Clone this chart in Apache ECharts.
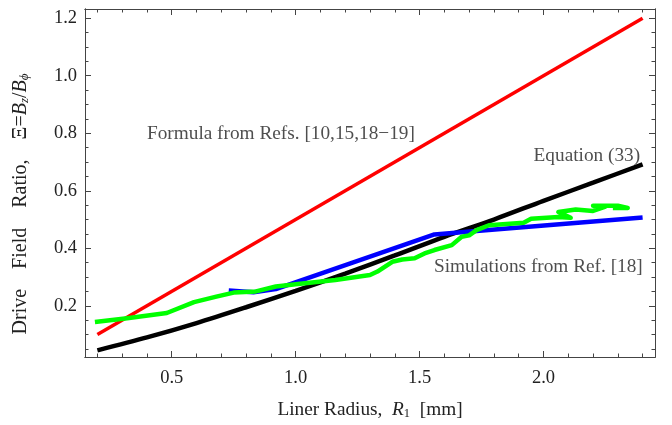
<!DOCTYPE html>
<html>
<head>
<meta charset="utf-8">
<script src="https://cdn.jsdelivr.net/npm/echarts@6/dist/echarts.min.js"></script>
<style>
  html, body { margin: 0; padding: 0; background: #fff; }
  #chart { width: 672px; height: 425px; }
</style>
</head>
<body>
<div id="chart"></div>
<script>
// tick positions
const xMajor = [0.5, 1.0, 1.5, 2.0];
const xMinor = [0.2, 0.3, 0.4, 0.6, 0.7, 0.8, 0.9, 1.1, 1.2, 1.3, 1.4, 1.6, 1.7, 1.8, 1.9, 2.1, 2.2, 2.3, 2.4];
const yMajor = [0.2, 0.4, 0.6, 0.8, 1.0, 1.2];
const yMinor = [0.05, 0.1, 0.15, 0.25, 0.3, 0.35, 0.45, 0.5, 0.55, 0.65, 0.7, 0.75, 0.85, 0.9, 0.95, 1.05, 1.1, 1.15];

// Formula from Refs. [10,15,18-19]
const formulaX = [0.2, 2.4];
const formulaY = [0.1, 1.2];

// Equation (33)
const eqX = [0.2, 0.4, 0.6, 0.8, 1.0, 1.2, 1.4, 1.6, 1.8, 2.0, 2.2, 2.4];
const eqY = [0.045, 0.09, 0.14, 0.195, 0.252, 0.312, 0.375, 0.44, 0.5, 0.565, 0.628, 0.692];

// Simulations (blue)
const simBlueX = [0.73, 0.83, 0.92, 1.56, 1.68, 2.40];
const simBlueY = [0.253, 0.247, 0.258, 0.448, 0.457, 0.507];

const simGreenX = [0.19, 0.32, 0.48, 0.59, 0.68, 0.75, 0.84, 0.92, 1.0, 1.16, 1.30, 1.33, 1.39, 1.43, 1.48, 1.52, 1.56, 1.63, 1.67, 1.70, 1.73, 1.78, 1.92, 1.95, 2.06, 2.11, 2.06, 2.13, 2.20, 2.25, 2.20, 2.30, 2.34, 2.28];
const simGreenY = [0.144, 0.157, 0.175, 0.213, 0.232, 0.246, 0.25, 0.267, 0.275, 0.29, 0.307, 0.319, 0.353, 0.361, 0.365, 0.382, 0.394, 0.411, 0.44, 0.445, 0.463, 0.48, 0.489, 0.503, 0.509, 0.506, 0.526, 0.535, 0.53, 0.545, 0.548, 0.548, 0.54, 0.54];

// in-plot labels
const noteText = ["Formula from Refs. [10,15,18\u221219]", "Equation (33)", "Simulations from Ref. [18]"];
const noteX = [0.40, 2.39, 1.558];
const noteY = [0.797, 0.72, 0.335];
const noteAlign = ["left", "right", "left"];

const XMIN = 0.15, XMAX = 2.45;
const YMIN = 0.022, YMAX = 1.232;

const pairs = (xs, ys) => xs.map((x, i) => [x, ys[i]]);

const FONT = "Liberation Serif";
const FS = 19.3;
const frameColor = "#444";

function xAxisDef(position, major, showLabel) {
  return {
    type: "value", min: XMIN, max: XMAX, position: position,
    axisLine: { show: true, onZero: false, lineStyle: { color: frameColor, width: 1 } },
    splitLine: { show: false },
    axisTick: { show: true, inside: true, length: major ? 6 : 3.5,
      customValues: major ? xMajor : xMinor, lineStyle: { color: frameColor } },
    axisLabel: { show: showLabel, customValues: xMajor, margin: 12,
      formatter: (v) => v.toFixed(1), color: "#222", fontFamily: FONT, fontSize: 18.5 },
  };
}
function yAxisDef(position, major, showLabel) {
  return {
    type: "value", min: YMIN, max: YMAX, position: position,
    axisLine: { show: true, onZero: false, lineStyle: { color: frameColor, width: 1 } },
    splitLine: { show: false },
    axisTick: { show: true, inside: true, length: major ? 6 : 3.5,
      customValues: major ? yMajor : yMinor, lineStyle: { color: frameColor } },
    axisLabel: { show: showLabel, customValues: yMajor, margin: 8,
      formatter: (v) => v.toFixed(1), color: "#222", fontFamily: FONT, fontSize: 18.5 },
  };
}

const chart = echarts.init(document.getElementById("chart"));

const xMain = xAxisDef("bottom", true, true);
xMain.name = "Liner Radius,  {i|R}{sub|1}  [mm]";
xMain.nameLocation = "middle";
xMain.nameGap = 42;
xMain.nameTextStyle = {
  color: "#222", fontFamily: FONT, fontSize: FS,
  rich: {
    i: { fontFamily: FONT, fontSize: FS, fontStyle: "italic", color: "#222" },
    sub: { fontFamily: FONT, fontSize: 12.5, color: "#222", padding: [8, 0, 0, 0] },
  },
};

const yMain = yAxisDef("left", true, true);
yMain.name = "Drive    Field    Ratio,    \u039E={i|B}{sub|z}/{i|B}{sub|\u03D5}";
yMain.nameLocation = "middle";
yMain.nameGap = 54;
yMain.nameTextStyle = {
  color: "#222", fontFamily: FONT, fontSize: 20, padding: [0, 42, 0, 0],
  rich: {
    i: { fontFamily: FONT, fontSize: 20, fontStyle: "italic", color: "#222" },
    sub: { fontFamily: FONT, fontSize: 13, fontStyle: "italic", color: "#222", padding: [8, 0, 0, 0] },
  },
};

const option = {
  animation: false,
  backgroundColor: "#fff",
  grid: { left: 85, right: 17, top: 9, bottom: 66, containLabel: false },
  xAxis: [xMain, xAxisDef("bottom", false, false), xAxisDef("top", true, false), xAxisDef("top", false, false)],
  yAxis: [yMain, yAxisDef("left", false, false), yAxisDef("right", true, false), yAxisDef("right", false, false)],
  series: [
    {
      name: "Formula", type: "line", data: pairs(formulaX, formulaY),
      showSymbol: false, lineStyle: { color: "#ff0000", width: 3.5 }, z: 2,
    },
    {
      name: "Equation (33)", type: "line", data: pairs(eqX, eqY), smooth: 0.3,
      showSymbol: false, lineStyle: { color: "#000000", width: 4.5 }, z: 3,
    },
    {
      name: "Simulations", type: "line", data: pairs(simBlueX, simBlueY),
      showSymbol: false, lineStyle: { color: "#0000ff", width: 4.5 }, z: 4,
    },
    {
      name: "Simulations from Ref. [18]", type: "line", data: pairs(simGreenX, simGreenY),
      showSymbol: false, lineStyle: { color: "#00ff00", width: 4.5, join: "round" }, z: 5,
    },
    {
      name: "notes", type: "scatter", symbolSize: 0, silent: true, z: 6,
      data: noteText.map((t, i) => ({
        value: [noteX[i], noteY[i]],
        label: { show: true, position: "inside", formatter: t, align: noteAlign[i],
          verticalAlign: "middle", color: "#222", fontFamily: FONT, fontSize: FS },
      })),
    },
  ],
};

chart.setOption(option);
</script>
</body>
</html>
